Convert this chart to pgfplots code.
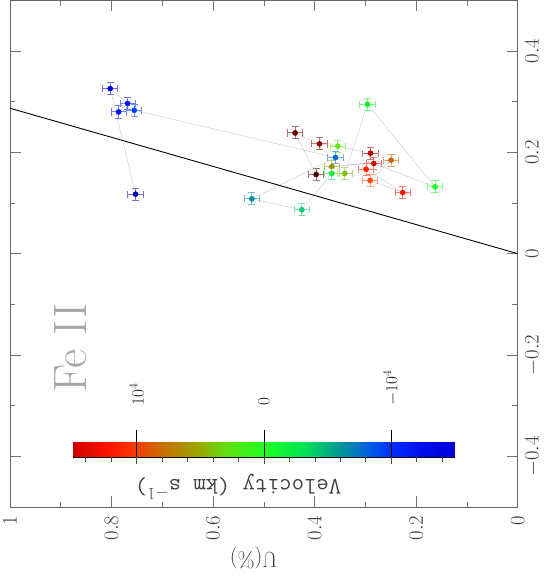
\documentclass[border=0pt]{standalone}
\usepackage{pgfplots}
\pgfplotsset{compat=1.18}
\usetikzlibrary{calc}

% point colours (velocity coded)
\definecolor{cA}{RGB}{0,0,216}
\definecolor{cB}{RGB}{0,16,240}
\definecolor{cC}{RGB}{0,20,255}
\definecolor{cD}{RGB}{0,60,255}
\definecolor{cE}{RGB}{0,0,176}
\definecolor{cTopG}{RGB}{10,250,40}
\definecolor{cMar}{RGB}{106,0,0}
\definecolor{cDkR}{RGB}{138,0,0}
\definecolor{cYG1}{RGB}{96,232,24}
\definecolor{cR1}{RGB}{176,0,0}
\definecolor{cBl2}{RGB}{0,104,224}
\definecolor{cR2}{RGB}{208,0,0}
\definecolor{cOrB}{RGB}{208,96,0}
\definecolor{cOli}{RGB}{160,144,0}
\definecolor{cRO}{RGB}{255,32,0}
\definecolor{cDkM}{RGB}{72,0,0}
\definecolor{cG2}{RGB}{24,232,72}
\definecolor{cYG2}{RGB}{128,192,16}
\definecolor{cOR}{RGB}{255,72,0}
\definecolor{cR3}{RGB}{255,16,0}
\definecolor{cTeal}{RGB}{0,144,160}
\definecolor{cGT}{RGB}{16,200,120}
\definecolor{cGR}{RGB}{32,248,32}

\newcommand{\pt}[3]{%
  \addplot[only marks, mark=*, mark size=2.6bp, color=#3,
    error bars/.cd, x dir=both, x explicit, y dir=both, y explicit,
    error bar style={#3!55, line width=1pt},
    error mark options={rotate=90, #3!55, mark size=3.6bp, line width=1pt}]
    coordinates {(#1,#2) +- (0.015,0.012)};}

\begin{document}
\begin{tikzpicture}
\pgfplotsset{
  colormap={vel}{rgb255(0cm)=(208,0,0); rgb255(3cm)=(255,24,0); rgb255(5cm)=(245,60,0);
    rgb255(7cm)=(200,110,0); rgb255(10cm)=(150,170,0); rgb255(12cm)=(96,224,16);
    rgb255(15cm)=(32,255,32); rgb255(18cm)=(0,230,80); rgb255(21cm)=(0,150,150);
    rgb255(23cm)=(0,100,220); rgb255(25cm)=(0,48,255); rgb255(27cm)=(0,16,240);
    rgb255(30cm)=(0,0,216)},
}
\begin{axis}[
  name=main,
  scale only axis, width=508bp, height=507bp,
  xmin=0, xmax=1, x dir=reverse, ymin=-0.5, ymax=0.5,
  xtick={0,0.2,0.4,0.6,0.8,1}, ytick={-0.4,-0.2,0,0.2,0.4},
  minor xtick={0.1,0.3,0.5,0.7,0.9}, minor ytick={-0.3,-0.1,0.1,0.3},
  tick align=inside, major tick length=11bp, minor tick length=5.5bp,
  xticklabel pos=lower, yticklabel pos=right,
  every tick/.style={black!55, line width=0.5pt},
  axis line style={black!60, line width=0.6pt},
  tick label style={font=\fontsize{22}{26}\selectfont, text=black!75},
  xticklabel style={rotate=90, anchor=east}, xticklabel shift=5bp,
  yticklabel style={rotate=90, anchor=north}, yticklabel shift=4bp,
  xlabel={U(\%)},
  xlabel style={font=\fontsize{22}{26}\selectfont, text=black!75, rotate=180,
    anchor=center, at={(axis description cs:0.48,-0.101)}},
  point meta min=-15000, point meta max=15000, colormap name=vel,
  colorbar horizontal,
  colorbar shift/.style={},
  colorbar style={
    at={($(parent axis.south east)+(-63bp,50bp)$)}, anchor=south east,
    scale only axis, width=382bp, height=27bp,
    xtick={-10000,0,10000}, xticklabels={$10^4$,$0$,$-10^4$},
    scaled x ticks=false,
    major tick length=0pt, minor tick length=0pt,
    xmajorgrids, major grid style={black, line width=0.5pt},
    axis on top, axis line style={draw=none},
    xticklabel style={yshift=48bp, rotate=90, anchor=west, font=\fontsize{17}{20}\selectfont, text=black!85},
    xticklabel shift=0bp,
    xlabel={Velocity (km s$^{-1}$)},
    xlabel style={font=\ttfamily\fontsize{24}{27}\selectfont, text=black!75, rotate=180,
      anchor=center, at={(axis description cs:0.432,-1.12)}},
    extra description/.code={
      \draw[black, line width=0.6pt] (axis description cs:0,0) -- (axis description cs:1,0);
      \foreach \v in {-14000,-12000,...,14000}
        \draw[black!70, line width=0.5pt] (axis cs:\v,0) -- ++(0,-5bp);
      \foreach \v in {-10000,0,10000}
        \draw[black!70, line width=0.5pt] (axis cs:\v,0) -- ++(0,-7bp);
    },
  },
]
% path joining the velocity bins
\addplot[gray!35, line width=0.5pt] coordinates {
  (0.3970,0.1562) (0.4384,0.2383) (0.3904,0.2166) (0.3543,0.2120)
  (0.2900,0.1982) (0.2986,0.1667) (0.2264,0.1207) (0.2907,0.1444)
  (0.2494,0.1844) (0.3661,0.1720) (0.2835,0.1779) (0.1628,0.1318)
  (0.2959,0.2949) (0.3406,0.1582) (0.3661,0.1582) (0.4252,0.0864)
  (0.5236,0.1081) (0.3589,0.1897) (0.7553,0.2830) (0.7860,0.2797)
  (0.7683,0.2963) (0.8026,0.3258) (0.7526,0.1174)
};
% dominant axis
\addplot[black, line width=0.9pt] coordinates {(0,0) (1,0.287)};

\pt{0.8026}{0.3258}{cA}
\pt{0.7683}{0.2963}{cB}
\pt{0.7860}{0.2797}{cC}
\pt{0.7553}{0.2830}{cD}
\pt{0.7526}{0.1174}{cE}
\pt{0.2959}{0.2949}{cTopG}
\pt{0.4384}{0.2383}{cMar}
\pt{0.3904}{0.2166}{cDkR}
\pt{0.3543}{0.2120}{cYG1}
\pt{0.2900}{0.1982}{cR1}
\pt{0.3589}{0.1897}{cBl2}
\pt{0.2835}{0.1779}{cR2}
\pt{0.2494}{0.1844}{cOrB}
\pt{0.3661}{0.1720}{cOli}
\pt{0.2986}{0.1667}{cRO}
\pt{0.3970}{0.1562}{cDkM}
\pt{0.3661}{0.1582}{cG2}
\pt{0.3406}{0.1582}{cYG2}
\pt{0.2907}{0.1444}{cOR}
\pt{0.2264}{0.1207}{cR3}
\pt{0.5236}{0.1081}{cTeal}
\pt{0.4252}{0.0864}{cGT}
\pt{0.1628}{0.1318}{cGR}

\node[rotate=90, text=black!35, font=\fontsize{47}{52}\selectfont] at (axis cs:0.88,-0.186) {Fe II};
\end{axis}
% page margins as in the reference
\path ($(main.south west)+(-8bp,-72bp)$) rectangle ($(main.north east)+(29bp,0bp)$);
\end{tikzpicture}
\end{document}
